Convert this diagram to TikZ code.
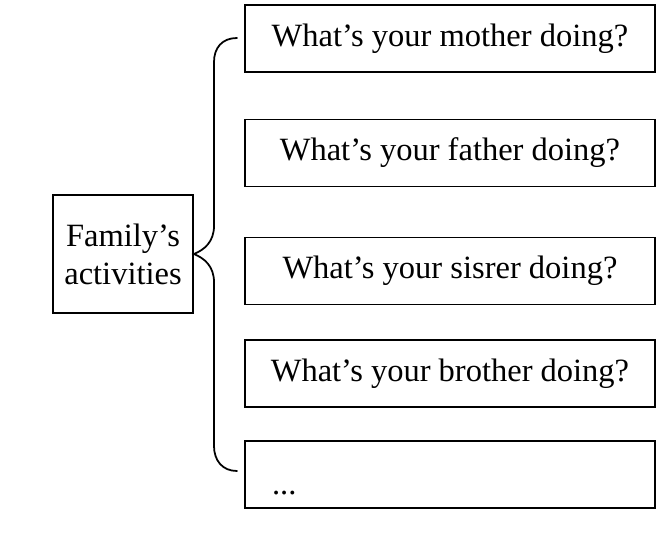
\documentclass[tikz,border=0pt]{standalone}
\usepackage{fontspec}
\setmainfont{Liberation Serif}
\usetikzlibrary{positioning}
\tikzset{
    qbox/.style={draw, line width=1pt, minimum width=8.2cm, minimum height=1.34cm, inner sep=0pt, font=\fontsize{18.5}{22}\selectfont},
    topic/.style={draw, line width=1pt, minimum width=2.8cm, minimum height=2.36cm, align=center, font=\fontsize{18.5}{21.5}\selectfont},
    brace/.style={line width=1pt, line cap=round}
}
\begin{document}
\begin{tikzpicture}[x=0.02cm, y=-0.02cm]
    \useasboundingbox (0,0) rectangle (663,534);
    \node[topic] (fam) at (123,254) {Family’s\\activities};

    \node[qbox] (q1) at (450,38.5) {What’s your mother doing?};
    \node[qbox] (q2) at (450,153) {What’s your father doing?};
    \node[qbox] (q3) at (450,271) {What’s your sisrer doing?};
    \node[qbox] (q4) at (450,373.5) {What’s your brother doing?};
    \node[qbox, text width=7.12cm, inner xsep=0.54cm, align=left, text height=0.8cm, text depth=0cm] (q5) at (450,474.5) {...};

    % the brace
    \coordinate (bt) at (237,38);
    \coordinate (bb) at (237,471);
    \draw[brace] (bt) .. controls (222,38) and (214,48) .. (214,62) -- (214,226)
        .. controls (214,242) and (204,250) .. (fam.east)
        .. controls (204,258) and (214,266) .. (214,282) -- (214,446)
        .. controls (214,460) and (222,471) .. (bb);
\end{tikzpicture}
\end{document}
